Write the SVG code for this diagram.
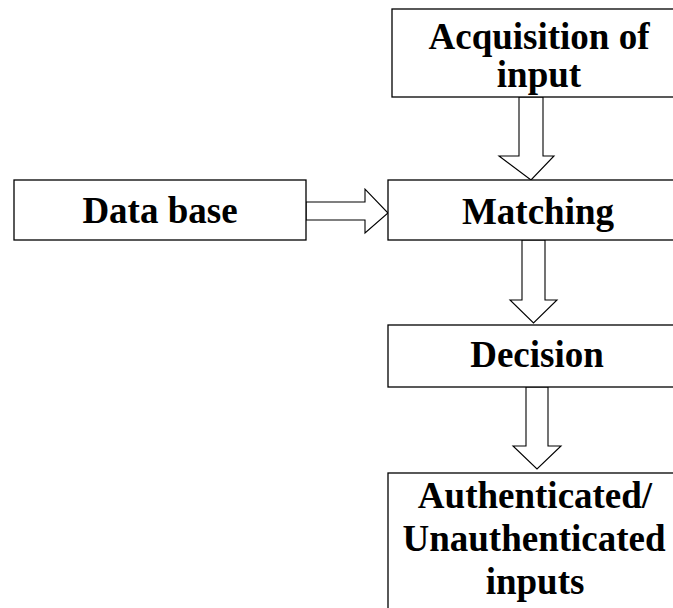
<svg xmlns="http://www.w3.org/2000/svg" width="673" height="608" viewBox="0 0 673 608">
<style>
.box{fill:#fff;stroke:#000;stroke-width:1.3}
.arr{fill:#fff;stroke:#000;stroke-width:1.1;stroke-linejoin:miter}
.t{font-family:"Liberation Serif","Times New Roman",serif;font-weight:bold;font-size:37px;fill:#000;text-anchor:middle}
</style>
<rect width="673" height="608" fill="#fff"/>
<g id="connectors">
<polygon class="arr" points="519,97 543,97 543,156 554,156 531,180 499,156 519,156"/>
<polygon class="arr" points="306,202 365,202 365,189 388,213 365,233 365,220 306,220"/>
<polygon class="arr" points="522,240 545,240 545,300 557,300 533.5,323 510,300 522,300"/>
<polygon class="arr" points="526,387 548,387 548,446 561,446 537,469 513,446 526,446"/>
</g>
<g id="acquisition">
<rect class="box" x="392" y="9" width="300" height="88"/>
<text class="t" x="539" y="49">Acquisition of</text>
<text class="t" x="539" y="87">input</text>
</g>
<g id="database">
<rect class="box" x="14" y="180" width="292" height="60"/>
<text class="t" x="160" y="223">Data base</text>
</g>
<g id="matching">
<rect class="box" x="388" y="180" width="304" height="60"/>
<text class="t" x="538" y="224">Matching</text>
</g>
<g id="decision">
<rect class="box" x="388" y="325" width="304" height="62"/>
<text class="t" x="537" y="367">Decision</text>
</g>
<g id="result">
<rect class="box" x="388" y="473" width="304" height="150"/>
<text class="t" x="535" y="508">Authenticated/</text>
<text class="t" x="534" y="551">Unauthenticated</text>
<text class="t" x="535" y="594">inputs</text>
</g>
</svg>
